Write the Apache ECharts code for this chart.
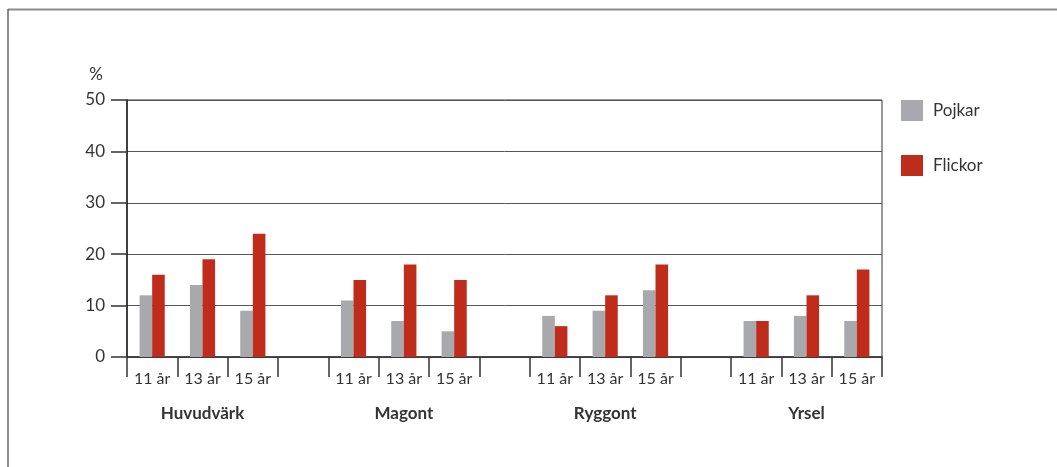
<!DOCTYPE html>
<html>
	<head>
		<meta charset="UTF-8">
		<title>Huvudvärk, magont, ryggont, yrsel</title>
		<script type="text/javascript" src="https://cdn.jsdelivr.net/npm/echarts@6/dist/echarts.min.js"></script>
	</head>
	<body style="margin:0;">
		<div id="main" style="width: 1057px;height: 467px;"></div>
		<script type="text/javascript">
			var myChart=echarts.init(document.getElementById('main'));

			// 4 grupper, 3 åldrar var, tom plats mellan grupperna
			var groups=['Huvudvärk','Magont','Ryggont','Yrsel'];
			var ages=['11 år','13 år','15 år'];
			var pojkar=[12,14,9, 11,7,5, 8,9,13, 7,8,7];
			var flickor=[16,19,24, 15,18,15, 6,12,18, 7,12,17];

			// bygg kategorier med mellanrum
			var cats=[],groupLabels=[],boys=[],girls=[];
			for(var g=0;g<groups.length;g++){
				for(var a=0;a<ages.length;a++){
					cats.push(ages[a]);
					groupLabels.push(a==1?groups[g]:'');
					boys.push(pojkar[g*3+a]);
					girls.push(flickor[g*3+a]);
				}
				if(g<groups.length-1){
					cats.push(' ');
					groupLabels.push('');
					boys.push('-');
					girls.push('-');
				}
			}

			var font='Lato';
			var option={
				textStyle:{fontFamily:font},
				grid:{
					left:127,right:175,top:100,bottom:110,
					show:true,borderColor:'#333',borderWidth:1
				},
				legend:{
					orient:'vertical',
					left:896,top:95,
					itemWidth:22,itemHeight:21,itemGap:34,
					icon:'rect',
					textStyle:{fontSize:17,color:'#333',fontFamily:font,padding:[0,0,0,5]},
					data:['Pojkar','Flickor']
				},
				xAxis:{
					type:'category',
					data:cats,
					axisLine:{lineStyle:{color:'#333',width:1.5}},
					axisTick:{show:true,length:20,lineStyle:{color:'#333',width:1.5},interval:0},
					axisLabel:{
						interval:0,margin:12,fontSize:16,lineHeight:20,color:'#333',fontFamily:font,
						formatter:function(v,i){
							return groupLabels[i]?v+'\n{g|'+groupLabels[i]+'}':v;
						},
						rich:{
							g:{fontSize:17,fontWeight:'bold',lineHeight:50,color:'#333',fontFamily:font}
						}
					},
					splitLine:{show:false}
				},
				yAxis:{
					type:'value',
					min:0,max:50,interval:10,
					name:'%',
					nameLocation:'end',
					nameGap:17,
					nameTextStyle:{align:'right',padding:[0,24,0,0],fontSize:17,color:'#333',fontFamily:font},
					axisLine:{show:true,lineStyle:{color:'#222',width:1.5}},
					axisTick:{show:true,length:16,lineStyle:{color:'#333',width:1.5}},
					axisLabel:{margin:22,fontSize:17,color:'#333',fontFamily:font},
					splitLine:{lineStyle:{color:'#555',width:1}}
				},
				series:[{
					name:'Pojkar',
					type:'bar',
					barGap:0,
					barCategoryGap:'50%',
					itemStyle:{color:'#a8a9ad'},
					data:boys
				},{
					name:'Flickor',
					type:'bar',
					barGap:0,
					barCategoryGap:'50%',
					itemStyle:{color:'#c02c1c'},
					data:girls
				}],
				graphic:[{
					type:'line',
					shape:{x1:8,y1:9.5,x2:1057,y2:9.5},
					style:{stroke:'#8c8c8c',lineWidth:2}
				},{
					type:'line',
					shape:{x1:8,y1:9,x2:8,y2:467},
					style:{stroke:'#666',lineWidth:1.5}
				}]
			};

			myChart.setOption(option);
		</script>
	</body>
</html>
